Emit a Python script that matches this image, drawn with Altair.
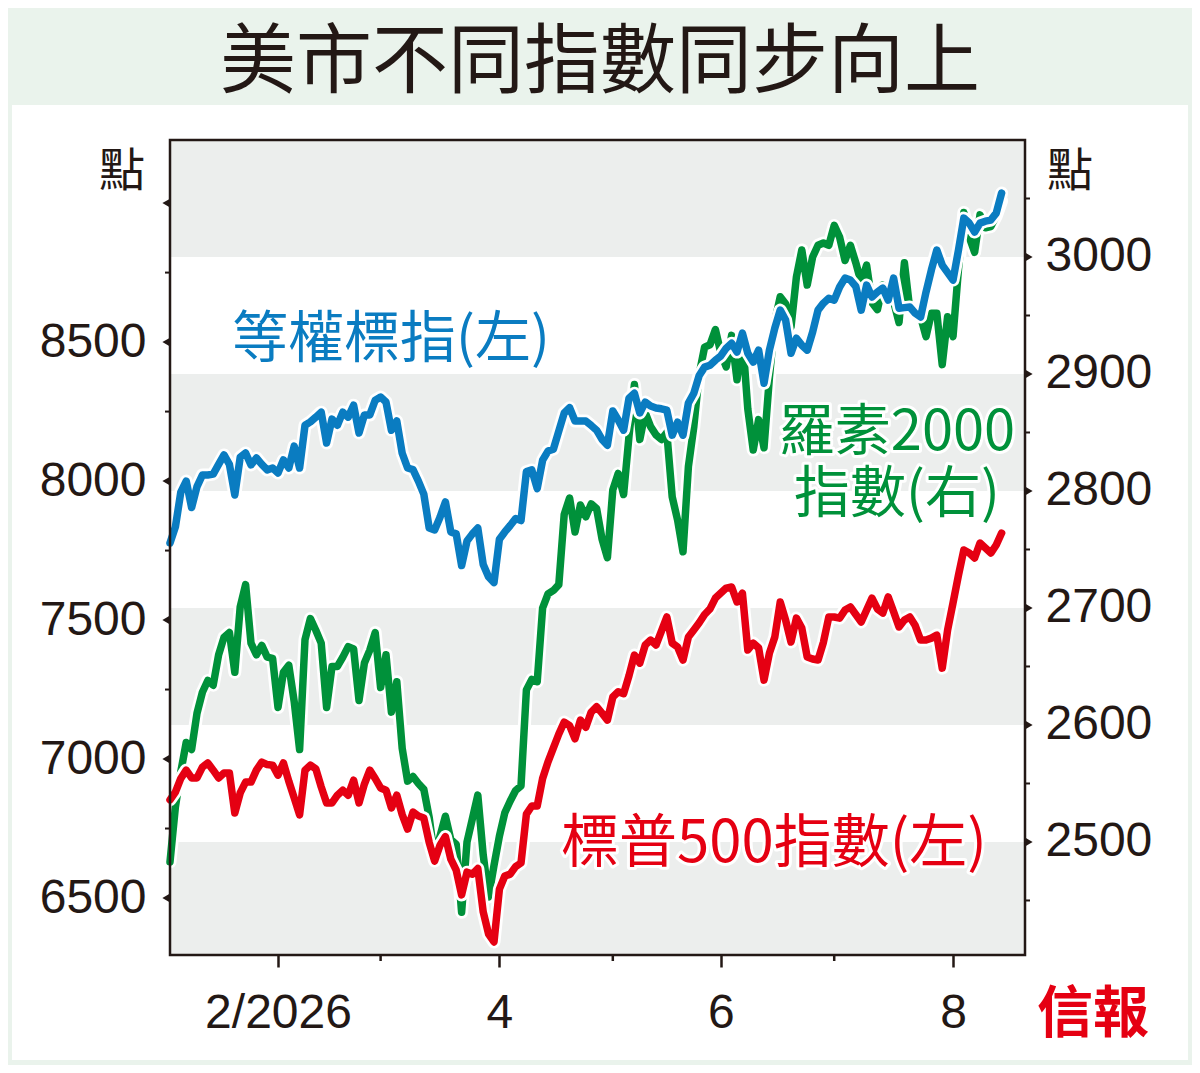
import altair as alt
import pandas as pd

TITLE = "美市不同指數同步向上"
UNIT = "點"
LABEL_EW = "等權標指(左)"
LABEL_RUT = ["羅素2000", "指數(右)"]
LABEL_SPX = "標普500指數(左)"
LOGO = "信報"

# trading days from 2 Jan 2026 to 13 Aug 2026
equal_weight = [
    7777, 7835, 7960, 8000, 7905, 7980, 8022, 8022, 8025, 8060,
    8094, 8060, 7950, 8086, 8101, 8058, 8083, 8060, 8040, 8047,
    8029, 8076, 8047, 8126, 8047, 8201, 8213, 8230, 8248, 8137,
    8223, 8201, 8248, 8230, 8273, 8173, 8238, 8238, 8291, 8302,
    8284, 8183, 8216, 8100, 8047, 8041, 8000, 7953, 7831, 7824,
    7870, 7925, 7817, 7810, 7696, 7784, 7810, 7831, 7700, 7655,
    7635, 7791, 7817, 7840, 7865, 7858, 8034, 8040, 7973, 8075,
    8108, 8115, 8180, 8245, 8264, 8216, 8216, 8216, 8200, 8183,
    8150, 8129, 8252, 8220, 8183, 8298, 8316, 8245, 8284, 8270,
    8263, 8260, 8255, 8165, 8212, 8165, 8281, 8316, 8380, 8410,
    8417, 8435, 8450, 8478, 8496, 8464, 8532, 8460, 8428, 8471,
    8352, 8471, 8550, 8615, 8579, 8460, 8514, 8489, 8471, 8536,
    8615, 8640, 8658, 8651, 8698, 8730, 8723, 8700, 8615, 8705,
    8662, 8680, 8694, 8651, 8730, 8622, 8624, 8626, 8604, 8590,
    8680, 8760, 8831, 8777, 8750, 8723, 8830, 8946, 8928, 8896,
    8928, 8935, 8939, 8964, 9036,
]
russell = [
    2483, 2530, 2560, 2585, 2579, 2610, 2628, 2638, 2634, 2660,
    2675, 2679, 2645, 2701, 2720, 2670, 2660, 2668, 2658, 2657,
    2615, 2645, 2651, 2620, 2579, 2673, 2691, 2681, 2670, 2615,
    2650, 2650, 2658, 2667, 2665, 2621, 2653, 2664, 2679, 2632,
    2660, 2611, 2637, 2580, 2552, 2556, 2550, 2545, 2521, 2486,
    2505, 2522, 2502, 2498, 2440, 2500, 2520, 2540, 2489, 2453,
    2480, 2505, 2525, 2535, 2544, 2548, 2630, 2639, 2637, 2700,
    2712, 2715, 2720, 2780, 2794, 2765, 2788, 2778, 2789, 2785,
    2759, 2743, 2801, 2815, 2797, 2847, 2891, 2844, 2867, 2855,
    2848, 2844, 2850, 2795, 2775, 2748, 2821, 2855, 2900, 2923,
    2925, 2938, 2918, 2906, 2933, 2895, 2932, 2870, 2835, 2861,
    2837, 2897, 2945, 2966, 2960, 2940, 2983, 3006, 2976, 3000,
    3010, 3012, 3010, 3027, 3017, 2997, 3010, 2995, 2978, 2993,
    2961, 2955, 2976, 2966, 2962, 2944, 2995, 2955, 2952, 2949,
    2932, 2952, 2952, 2908, 2949, 2932, 2989, 3038, 3017, 3004,
    3036, 3025, 3026, 3035, 3048,
]
sp500 = [
    6853, 6881, 6930, 6960, 6932, 6932, 6971, 6986, 6960, 6932,
    6950, 6950, 6806, 6878, 6917, 6917, 6960, 6989, 6980, 6978,
    6942, 6986, 6920, 6860, 6799, 6960, 6978, 6965, 6900, 6842,
    6842, 6870, 6888, 6870, 6924, 6842, 6910, 6960, 6930, 6896,
    6888, 6824, 6870, 6800, 6748, 6809, 6795, 6788, 6700, 6633,
    6690, 6721, 6640, 6600, 6511, 6593, 6586, 6606, 6450, 6370,
    6342, 6532, 6579, 6586, 6613, 6626, 6802, 6831, 6831, 6930,
    6990, 7040, 7090, 7133, 7120, 7073, 7140, 7114, 7169, 7188,
    7165, 7140, 7223, 7242, 7235, 7300, 7374, 7345, 7410, 7428,
    7410, 7460, 7511, 7417, 7403, 7356, 7439, 7464, 7490, 7520,
    7540, 7579, 7597, 7615, 7619, 7565, 7597, 7392, 7417, 7400,
    7284, 7381, 7439, 7565, 7500, 7421, 7507, 7471, 7367, 7360,
    7356, 7420, 7511, 7511, 7507, 7536, 7547, 7520, 7493, 7536,
    7579, 7540, 7525, 7583, 7530, 7475, 7500, 7511, 7480, 7428,
    7428, 7435, 7446, 7327, 7464, 7561, 7660, 7752, 7741, 7723,
    7777, 7759, 7741, 7770, 7813,
]

month_tick_idx = [20, 61, 102, 145]
month_tick_labels = ["2/2026", "4", "6", "8"]
minor_month_idx = [39, 82, 123]

left_labels = [6500, 7000, 7500, 8000, 8500]
left_major = [6500, 7000, 7500, 8000, 8500, 9000]
left_minor = [6750, 7250, 7750, 8250, 8750]
right_labels = [2500, 2600, 2700, 2800, 2900, 3000]
right_minor = [2450, 2550, 2650, 2750, 2850, 2950, 3050]
band_lo = [2400, 2600, 2800, 3000]
band_hi = [2500, 2700, 2900, 3100]

DARK = "#231815"
BLUE = "#0a7cc1"
GREEN = "#00913a"
RED = "#e50012"
BAND = "#eceeed"
BG = "#eaf3ec"
NUM_FONT = "Liberation Sans"
CJK_FONT = "Noto Sans CJK TC"

W, H = 855, 815
XS = alt.Scale(domain=[0, 158.33], nice=False, zero=False)
YL = alt.Scale(domain=[6295, 9227], nice=False, zero=False)
YR = alt.Scale(domain=[2403.4, 3100], nice=False, zero=False)

df = pd.DataFrame({
    "idx": list(range(len(equal_weight))),
    "ew": equal_weight,
    "rut": russell,
    "spx": sp500,
})

label_expr = "''"
for i, lab in reversed(list(zip(month_tick_idx, month_tick_labels))):
    label_expr = f"datum.value == {i} ? '{lab}' : {label_expr}"

# the same x axis definition is given to every layer with an x field (shared scale)
x_axis = alt.Axis(values=month_tick_idx, labelExpr=label_expr, tickSize=12, tickWidth=2.5,
                  tickColor=DARK, domain=False, grid=False, labelPadding=22,
                  labelFont=NUM_FONT, labelFontSize=48, labelColor=DARK, title=None, zindex=1)
left_axis = alt.Axis(orient="left", values=left_labels, format="d", ticks=False, domain=False,
                     grid=False, labelPadding=24, labelFont=NUM_FONT, labelFontSize=48,
                     labelColor=DARK, title=None, zindex=1)
right_axis = alt.Axis(orient="right", values=right_labels, format="d", ticks=False, domain=False,
                      grid=False, labelPadding=20, labelFont=NUM_FONT, labelFontSize=48,
                      labelColor=DARK, title=None, zindex=1)

base = alt.Chart(df)
X_ENC = alt.X("idx:Q", scale=XS, axis=x_axis, title=None)


def series(col, color, yscale, axis=None):
    halo = base.mark_line(color="white", strokeWidth=13, strokeJoin="round", strokeCap="round").encode(
        x=X_ENC, y=alt.Y(f"{col}:Q", scale=yscale, axis=None, title=None))
    if axis is not None:
        yenc = alt.Y(f"{col}:Q", scale=yscale, axis=axis, title=None)
    else:
        yenc = alt.Y(f"{col}:Q", scale=yscale, axis=None, title=None)
    line = base.mark_line(color=color, strokeWidth=7.5, strokeJoin="round", strokeCap="round").encode(
        x=X_ENC, y=yenc)
    return [halo, line]


one = pd.DataFrame({"a": [0]})


def strip(x0, x1, y0, y1):
    return alt.Chart(one).mark_rect(color=BG).encode(
        x=alt.value(x0), x2=alt.value(x1), y=alt.value(y0), y2=alt.value(y1))


# light green page border and title band (white panel is the background)
strips = [
    strip(-170, 1030, -140, -35),
    strip(-170, -158, -35, 930),
    strip(1018, 1030, -35, 930),
    strip(-170, 1030, 920, 930),
]

bands = alt.Chart(pd.DataFrame({"lo": band_lo, "hi": band_hi})).mark_rect(color=BAND, clip=True).encode(
    y=alt.Y("lo:Q", scale=YR, axis=None, title=None), y2="hi:Q", x=alt.value(0), x2=alt.value(W))
r_major = alt.Chart(pd.DataFrame({"v": right_labels})).mark_point(
    shape="triangle-right", filled=True, color=DARK, size=70, opacity=1).encode(
    y=alt.Y("v:Q", scale=YR, axis=None, title=None), x=alt.value(W + 4))
r_minor = alt.Chart(pd.DataFrame({"v": right_minor})).mark_rule(color=DARK, strokeWidth=2).encode(
    y=alt.Y("v:Q", scale=YR, axis=None, title=None), x=alt.value(W), x2=alt.value(W + 5))
l_major = alt.Chart(pd.DataFrame({"v": left_major})).mark_point(
    shape="triangle-left", filled=True, color=DARK, size=70, opacity=1).encode(
    y=alt.Y("v:Q", scale=YL, axis=None, title=None), x=alt.value(-4))
l_minor = alt.Chart(pd.DataFrame({"v": left_minor})).mark_rule(color=DARK, strokeWidth=2).encode(
    y=alt.Y("v:Q", scale=YL, axis=None, title=None), x=alt.value(-5), x2=alt.value(0))
x_minor = alt.Chart(pd.DataFrame({"idx": minor_month_idx})).mark_rule(color=DARK, strokeWidth=2.5).encode(
    x=X_ENC, y=alt.value(H), y2=alt.value(H + 6))

frame = alt.Chart(one).mark_rect(fillOpacity=0, stroke=DARK, strokeWidth=2.5).encode(
    x=alt.value(0), x2=alt.value(W), y=alt.value(0), y2=alt.value(H))


def text(t, x, y, size, color, align="center", halo=False, weight="normal", font=CJK_FONT):
    d = pd.DataFrame({"t": [t]})
    out = []
    if halo:
        out.append(alt.Chart(d).mark_text(font=font, fontSize=size, fontWeight=weight, align=align,
                                          baseline="middle", color="white", stroke="white",
                                          strokeWidth=6, strokeJoin="round").encode(
            text="t:N", x=alt.value(x), y=alt.value(y)))
    out.append(alt.Chart(d).mark_text(font=font, fontSize=size, fontWeight=weight, align=align,
                                      baseline="middle", color=color).encode(
        text="t:N", x=alt.value(x), y=alt.value(y)))
    return out


texts = []
texts += text(TITLE, 430, -76, 76, DARK)
texts += text(UNIT, -48, 32, 46, DARK)
texts += text(UNIT, 900, 32, 46, DARK)
texts += text(LABEL_EW, 62, 200, 56, BLUE, align="left", halo=True)
texts += text(LABEL_RUT[0], 727, 293, 56, GREEN, halo=True)
texts += text(LABEL_RUT[1], 727, 355, 56, GREEN, halo=True)
texts += text(LABEL_SPX, 604, 705, 58, RED, halo=True)
texts += text(LOGO, 923, 875, 56, RED, weight="bold")

layers = (strips + [bands]
          + series("rut", GREEN, YR, axis=right_axis)
          + series("ew", BLUE, YL, axis=left_axis)
          + series("spx", RED, YL)
          + [r_major, r_minor, l_major, l_minor, x_minor, frame] + texts)

chart = alt.layer(*layers).resolve_scale(y="independent").properties(
    width=W, height=H,
    padding={"left": 162, "top": 132, "right": 167, "bottom": 110},
    autosize=alt.AutoSizeParams(type="none"),
    background="white",
).configure_view(strokeWidth=0)

chart.save("out.html", embed_options={"renderer": "svg", "actions": False})
